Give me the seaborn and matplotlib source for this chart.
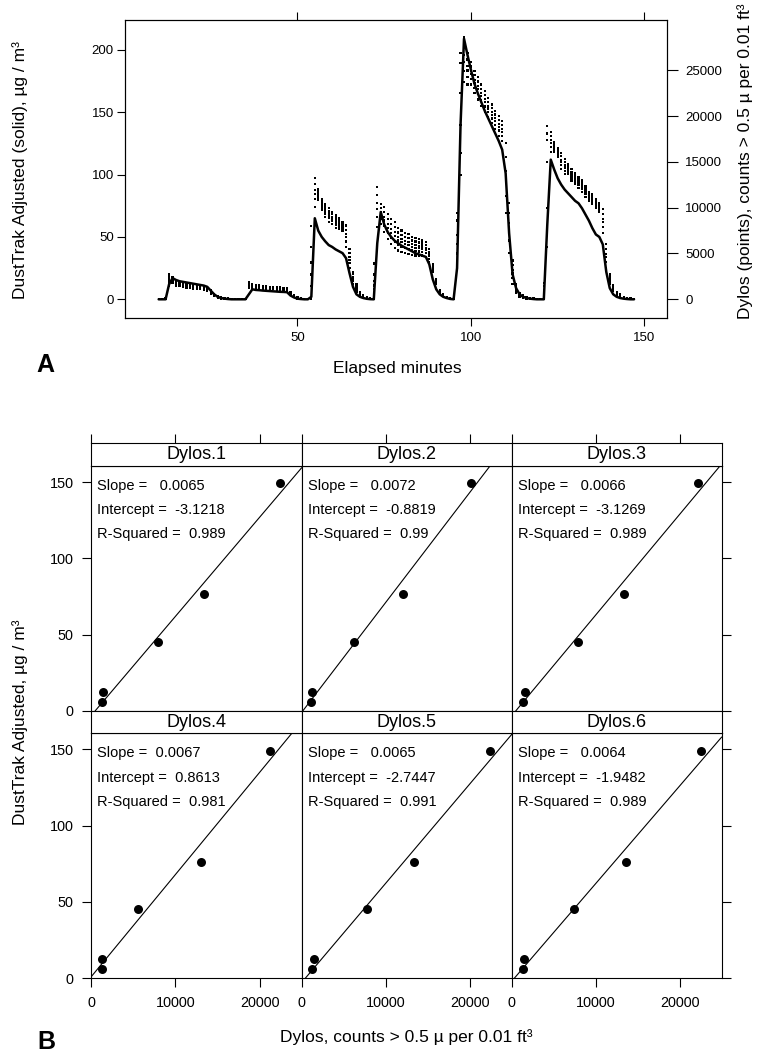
import numpy as np
import pandas as pd
import seaborn as sns
import matplotlib.pyplot as plt

# ---- panel A: time series, one reading per minute ----
minutes = list(range(10, 148))

dusttrak = [0, 0, 0, 12, 17, 15.5, 14.5, 14, 13.5, 13, 12.5, 12, 11.5, 11, 10, 7, 4, 2, 1, 0.5, 0.2, 0, 0, 0, 0, 0,
            4, 8, 7.5, 7.3, 7, 6.8, 6.6, 6.4, 6.2, 6, 5.9, 5.7, 3, 1.5, 0.5, 0.2, 0, 0,
            2, 65, 55, 50, 46.5, 43.5, 42, 40, 38.5, 37, 33, 21, 10, 4, 2, 1, 0.4, 0.1,
            0, 45, 70, 60, 54, 50, 47, 45, 43, 41.5, 40, 38.5, 37, 36, 35, 34, 28, 16, 8, 4, 2, 1, 0.3, 0,
            25, 140, 209, 196, 184, 173, 165, 158, 151, 145, 139, 133, 127, 120, 101, 53, 20, 9, 4, 2, 1, 0.5, 0.2, 0, 0,
            0, 60, 112, 104, 97, 92, 88, 85, 82, 79, 77, 73, 68, 63, 57, 52, 50, 44, 22, 9, 4, 2, 1, 0.5, 0.2, 0, 0]

dylos_1 = [0, 0, 110, 2480, 2310, 1930, 1810, 1740, 1670, 1600, 1540, 1480, 1420, 1350, 1280, 870, 500, 300, 170, 120, 50, 0, 0, 0, 0, 0,
           1760, 1560, 1490, 1440, 1380, 1370, 1300, 1290, 1240, 1230, 1170, 1100, 760, 370, 170, 90, 0, 0,
           5700, 12600, 11760, 10680, 10120, 9650, 9270, 8860, 8610, 8260, 7580, 5040, 2730, 1480, 740, 370, 170, 90,
           2000, 11400, 9920, 9540, 8720, 8180, 7880, 7280, 7040, 6780, 6670, 6420, 6300, 6190, 6080, 5940, 5180, 3660, 2070, 900, 500, 240, 120, 50,
           8600, 25800, 27620, 26170, 25410, 24450, 23770, 22980, 22300, 21530, 20850, 20170, 19600, 19050, 15510, 9410, 3710, 1450, 600, 360, 170, 120, 50, 0, 0,
           1400, 18100, 17820, 16950, 16300, 15600, 14940, 14500, 13930, 13520, 13110, 12700, 12160, 11530, 11230, 10710, 10310, 9290, 5480, 2510, 1390, 740, 490, 240, 120, 60, 20]
dylos_2 = [0, 0, 0, 1500, 1770, 1500, 1430, 1360, 1290, 1220, 1160, 1160, 1090, 1020, 950, 540, 340, 140, 70, 30, 0, 0, 0, 0, 0, 0,
           1220, 1290, 1220, 1220, 1160, 1150, 1090, 1080, 1020, 1010, 950, 880, 540, 200, 70, 30, 0, 0,
           0, 10100, 10800, 9800, 9000, 8450, 8180, 7770, 7630, 7500, 5720, 3400, 1640, 820, 410, 200, 70, 30,
           0, 7900, 8180, 7360, 6540, 6000, 5590, 5320, 5180, 5040, 4980, 4840, 4770, 4770, 4770, 4630, 4090, 3000, 1640, 680, 340, 140, 40, 0,
           3540, 13600, 23700, 23440, 23440, 22490, 21810, 21130, 20450, 19900, 19220, 18540, 17860, 17310, 9400, 5040, 1640, 680, 270, 140, 70, 30, 0, 0, 0,
           0, 5720, 16080, 16080, 15540, 14180, 13630, 13630, 12950, 12540, 12130, 11720, 11180, 10770, 10360, 9950, 9540, 7220, 3400, 1640, 950, 410, 270, 140, 70, 30, 0]
dylos_3 = [0, 0, 140, 2720, 2450, 2040, 1900, 1840, 1770, 1700, 1630, 1560, 1500, 1430, 1360, 950, 540, 340, 200, 140, 70, 0, 0, 0, 0, 0,
           1900, 1630, 1560, 1500, 1430, 1420, 1360, 1350, 1290, 1280, 1220, 1160, 820, 410, 200, 110, 0, 0,
           8000, 13200, 12000, 10900, 10400, 9950, 9540, 9130, 8860, 8450, 8040, 5450, 3000, 1640, 820, 410, 200, 110,
           3900, 12270, 10360, 10090, 9270, 8720, 8450, 7770, 7500, 7220, 7090, 6820, 6680, 6540, 6410, 6270, 5450, 3820, 2180, 950, 540, 270, 140, 70,
           9400, 26850, 28600, 26850, 25900, 24940, 24260, 23440, 22760, 21940, 21260, 20580, 20040, 19490, 17040, 10500, 4230, 1640, 680, 410, 200, 140, 70, 0, 0,
           1770, 18950, 18260, 17170, 16490, 15950, 15270, 14720, 14180, 13770, 13360, 12950, 12400, 11720, 11450, 10900, 10500, 9810, 6000, 2730, 1500, 820, 540, 270, 140, 70, 30]
dylos_4 = [0, 0, 30, 1800, 1940, 1640, 1550, 1480, 1410, 1340, 1280, 1260, 1190, 1120, 1050, 640, 390, 190, 100, 60, 20, 0, 0, 0, 0, 0,
           1390, 1380, 1310, 1290, 1230, 1220, 1160, 1150, 1090, 1080, 1020, 950, 610, 250, 100, 50, 0, 0,
           1400, 10900, 11100, 10080, 9350, 8830, 8520, 8110, 7940, 7740, 6300, 3910, 1980, 1020, 510, 250, 100, 50,
           1100, 9000, 8730, 8040, 7220, 6680, 6310, 5930, 5760, 5590, 5510, 5340, 5250, 5210, 5180, 5040, 4430, 3210, 1780, 750, 390, 170, 60, 20,
           5000, 16000, 24930, 24290, 24060, 23100, 22420, 21710, 21030, 20410, 19730, 19050, 18410, 17860, 11310, 6400, 2290, 920, 370, 210, 100, 60, 20, 0, 0,
           400, 10000, 16630, 16350, 15780, 14620, 14040, 13900, 13260, 12850, 12440, 12030, 11490, 11010, 10630, 10190, 9780, 7870, 4050, 1910, 1090, 510, 340, 170, 90, 40, 10]
dylos_5 = [0, 0, 80, 2230, 2180, 1820, 1710, 1650, 1580, 1510, 1440, 1400, 1340, 1270, 1200, 790, 460, 260, 150, 100, 40, 0, 0, 0, 0, 0,
           1630, 1490, 1420, 1390, 1320, 1310, 1250, 1240, 1180, 1170, 1110, 1050, 710, 330, 150, 80, 0, 0,
           4000, 11960, 11520, 10460, 9840, 9350, 9000, 8590, 8370, 8070, 7110, 4630, 2460, 1310, 660, 330, 150, 80,
           2700, 10520, 9490, 9000, 8180, 7630, 7310, 6790, 6570, 6350, 6250, 6030, 5920, 5830, 5750, 5610, 4910, 3490, 1960, 840, 460, 220, 100, 40,
           7000, 22500, 26640, 25490, 24920, 23960, 23280, 22520, 21840, 21120, 20440, 19760, 19170, 18620, 13980, 8320, 3190, 1260, 520, 300, 150, 100, 40, 0, 0,
           1000, 17400, 17390, 16730, 16110, 15240, 14610, 14280, 13690, 13280, 12870, 12460, 11910, 11340, 11010, 10520, 10120, 8770, 4960, 2290, 1280, 660, 430, 220, 110, 50, 20]
dylos_6 = [0, 0, 60, 2050, 2080, 1740, 1640, 1580, 1510, 1440, 1370, 1340, 1270, 1200, 1130, 720, 430, 230, 130, 80, 30, 0, 0, 0, 0, 0,
           1530, 1440, 1370, 1350, 1280, 1270, 1210, 1200, 1140, 1130, 1070, 1010, 670, 300, 130, 70, 0, 0,
           2700, 11500, 11340, 10300, 9630, 9130, 8790, 8380, 8180, 7930, 6760, 4320, 2250, 1190, 590, 300, 130, 70,
           1500, 9870, 9160, 8590, 7770, 7220, 6880, 6420, 6220, 6020, 5930, 5730, 5630, 5570, 5510, 5370, 4700, 3370, 1880, 800, 430, 200, 80, 30,
           6000, 19000, 25910, 24970, 24550, 23590, 22910, 22170, 21490, 20820, 20140, 19460, 18840, 18290, 12840, 7500, 2810, 1110, 450, 260, 130, 80, 30, 0, 0,
           800, 15000, 17060, 16570, 15970, 14980, 14370, 14120, 13500, 13090, 12680, 12270, 11730, 11200, 10850, 10380, 9970, 8390, 4570, 2130, 1200, 590, 390, 200, 100, 50, 10]

# ---- panel B: episode means and fits ----
units = ['Dylos.1', 'Dylos.2', 'Dylos.3', 'Dylos.4', 'Dylos.5', 'Dylos.6']
dusttrak_means = [5.8, 12.7, 45.3, 76.4, 149.2]
dylos_means = [[1340, 1460, 7920, 13420, 22370],
               [1070, 1190, 6210, 12070, 20190],
               [1380, 1580, 7910, 13340, 22210],
               [1340, 1340, 5620, 13100, 21260],
               [1260, 1500, 7800, 13340, 22450],
               [1380, 1460, 7440, 13660, 22560]]
slopes = [0.0065, 0.0072, 0.0066, 0.0067, 0.0065, 0.0064]
intercepts = [-3.1218, -0.8819, -3.1269, 0.8613, -2.7447, -1.9482]
r_squared = [0.989, 0.99, 0.989, 0.981, 0.991, 0.989]

dt_df = pd.DataFrame({'minute': minutes, 'dusttrak': dusttrak})
dy_df = pd.DataFrame({'minute': minutes, 'Dylos.1': dylos_1, 'Dylos.2': dylos_2, 'Dylos.3': dylos_3,
                      'Dylos.4': dylos_4, 'Dylos.5': dylos_5, 'Dylos.6': dylos_6})
dy_long = dy_df.melt(id_vars='minute', var_name='unit', value_name='counts')

sns.set_style("ticks")
plt.rcParams['font.family'] = ['Liberation Sans', 'DejaVu Sans']
plt.rcParams.update({'axes.edgecolor': 'black', 'axes.linewidth': 0.8,
                     'text.color': 'black', 'axes.labelcolor': 'black',
                     'xtick.color': 'black', 'ytick.color': 'black'})

W, H = 760, 1059
fig = plt.figure(figsize=(7.6, 10.59), dpi=100)


def box(l, t, r, b):
    # pixel box -> figure fraction
    return [l / W, 1 - b / H, (r - l) / W, (b - t) / H]


# ---------- A ----------
ax = fig.add_axes(box(125, 20, 667, 318))
sns.lineplot(data=dt_df, x='minute', y='dusttrak', ax=ax, color='black', lw=1.8, estimator=None)
ax2 = ax.twinx()
sns.scatterplot(data=dy_long, x='minute', y='counts', hue='unit', palette=['black'] * 6,
                marker='s', s=2.5, linewidth=0, legend=False, ax=ax2)

ax.set_xlim(0.3, 156.5)
ax.set_ylim(-15, 224)
ax2.set_ylim(-2050, 30480)
ax.set_xticks([50, 100, 150])
ax.set_yticks([0, 50, 100, 150, 200])
ax2.set_yticks([0, 5000, 10000, 15000, 20000, 25000])
ax.tick_params(axis='x', direction='out', length=6, width=0.8, labelsize=9.5, pad=4, top=True, labeltop=False)
ax.tick_params(axis='y', direction='out', length=6, width=0.8, labelsize=9.5, pad=2)
ax2.tick_params(axis='y', direction='out', length=8, width=0.8, labelsize=9.5, pad=5)
for a in (ax, ax2):
    a.set_xlabel('')
    a.set_ylabel('')

fig.text(20 / W, 1 - 170 / H, 'DustTrak Adjusted (solid), µg / m³', rotation=90,
         ha='center', va='center', fontsize=12.5)
fig.text(745 / W, 1 - 161 / H, 'Dylos (points), counts > 0.5 µ per 0.01 ft³', rotation=90,
         ha='center', va='center', fontsize=12.5)
fig.text(397 / W, 1 - 368 / H, 'Elapsed minutes', ha='center', va='center', fontsize=12.5)
fig.text(45 / W, 1 - 365 / H, 'A', ha='center', va='center', fontsize=18, fontweight='bold')

# ---------- B ----------
xs = [91, 301.7, 511.7, 721.7]
strip_top = [443.3, 711]
panel_top = [466, 733.3]
panel_bot = [711, 978.3]

for i, unit in enumerate(units):
    r, c = divmod(i, 3)
    pax = fig.add_axes(box(xs[c], panel_top[r], xs[c + 1], panel_bot[r]))
    sns.scatterplot(x=dylos_means[i], y=dusttrak_means, ax=pax, color='black', s=42, linewidth=0)
    pax.axline((0, intercepts[i]), slope=slopes[i], color='black', lw=0.8)
    pax.set_xlim(0, 25000)
    pax.set_ylim(0, 160.5)

    s_txt, i_txt = str(slopes[i]), str(intercepts[i])
    w = max(len(s_txt), len(i_txt))
    lines = ['Slope =  ' + s_txt.rjust(w), 'Intercept =  ' + i_txt.rjust(w),
             'R-Squared =  ' + str(r_squared[i])]
    for k, t in enumerate(lines):
        pax.text(700, [147.5, 131.5, 115.7][k], t, ha='left', va='center', fontsize=10.5)

    pax.set_xticks([0, 10000, 20000])
    pax.set_yticks([0, 50, 100, 150])
    pax.tick_params(direction='out', length=6.5, width=0.8, labelsize=10.4, pad=6,
                    bottom=(r == 1), labelbottom=(r == 1),
                    left=(c == 0), labelleft=(c == 0),
                    right=(c == 2), labelright=False, top=False)
    pax.set_xticklabels(['0', '10000', '20000'])

    sax = fig.add_axes(box(xs[c], strip_top[r], xs[c + 1], panel_top[r]))
    sax.set_xlim(0, 25000)
    sax.set_yticks([])
    sax.set_xticks([0, 10000, 20000])
    sax.tick_params(axis='x', direction='out', length=6.5, width=0.8,
                    bottom=False, labelbottom=False, top=(r == 0), labeltop=False)
    sax.text(0.5, 0.5, unit, transform=sax.transAxes, ha='center', va='center', fontsize=13)

fig.text(20 / W, 1 - 722 / H, 'DustTrak Adjusted, µg / m³', rotation=90,
         ha='center', va='center', fontsize=12.5)
fig.text(406 / W, 1 - 1037 / H, 'Dylos, counts > 0.5 µ per 0.01 ft³', ha='center', va='center', fontsize=12.5)
fig.text(46 / W, 1 - 1042 / H, 'B', ha='center', va='center', fontsize=18, fontweight='bold')

fig.savefig('out.png', dpi=100)
